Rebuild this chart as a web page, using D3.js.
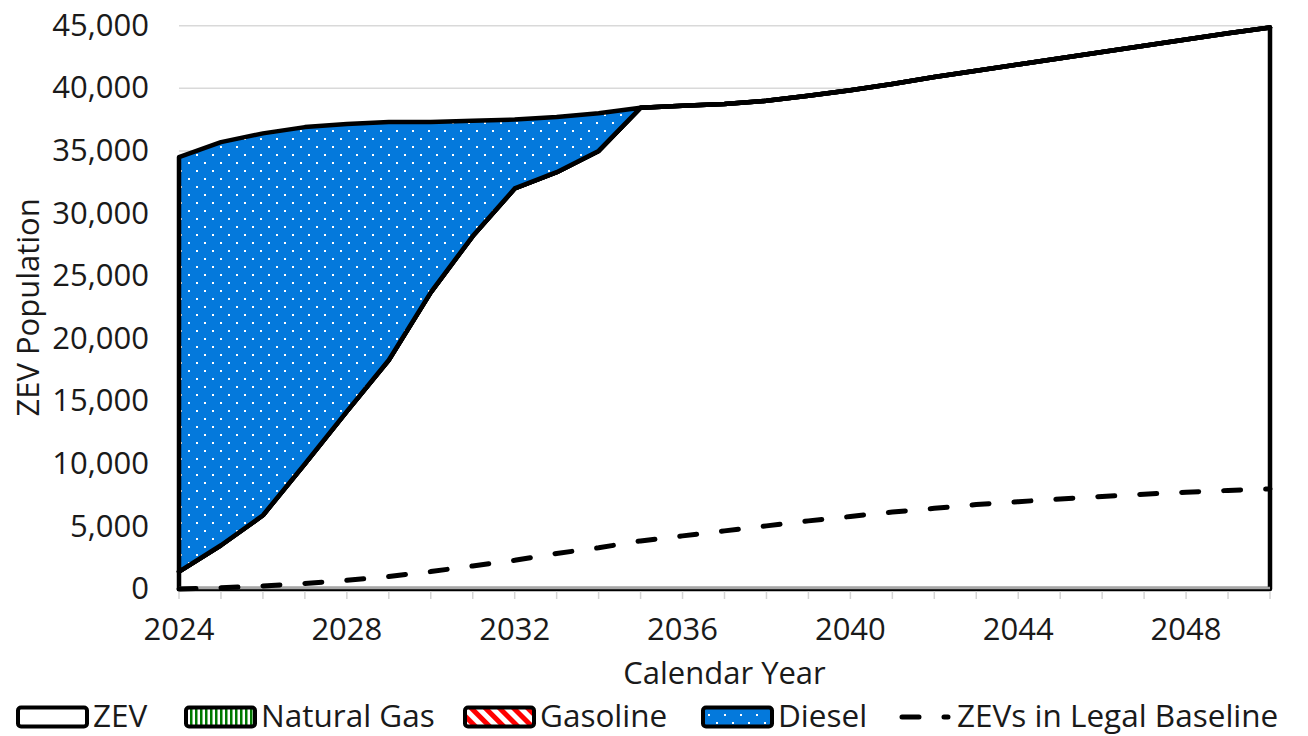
<!DOCTYPE html>
<html>
<head>
<meta charset="utf-8">
<script src="https://cdn.jsdelivr.net/npm/d3@7"></script>
<style>
  body { margin: 0; background: #fff; }
  svg { display: block; }
  text { font-family: "Open Sans", Lato, sans-serif; fill: #1a1a1a; }
</style>
</head>
<body>
<svg id="chart" width="1308" height="736"></svg>
<script>
// Fleet population by fuel type, 2024-2050
const years = [2024, 2025, 2026, 2027, 2028, 2029, 2030, 2031, 2032, 2033, 2034, 2035, 2036,
  2037, 2038, 2039, 2040, 2041, 2042, 2043, 2044, 2045, 2046, 2047, 2048, 2049, 2050];
const zev = [1400, 3500, 5900, 10000, 14200, 18300, 23700, 28200, 32000, 33300, 35000, 38450, 38600,
  38750, 39000, 39400, 39850, 40350, 40900, 41400, 41900, 42400, 42900, 43400, 43900, 44400, 44850];
const naturalGas = [0, 0, 0, 0, 0, 0, 0, 0, 0, 0, 0, 0, 0,
  0, 0, 0, 0, 0, 0, 0, 0, 0, 0, 0, 0, 0, 0];
const gasoline = [0, 0, 0, 0, 0, 0, 0, 0, 0, 0, 0, 0, 0,
  0, 0, 0, 0, 0, 0, 0, 0, 0, 0, 0, 0, 0, 0];
const diesel = [33100, 32200, 30500, 26900, 22950, 19000, 13600, 9200, 5500, 4400, 3000, 0, 0,
  0, 0, 0, 0, 0, 0, 0, 0, 0, 0, 0, 0, 0, 0];
const legalBaseline = [0, 100, 250, 450, 700, 1000, 1400, 1850, 2300, 2850, 3300, 3850, 4250,
  4650, 5050, 5450, 5800, 6150, 6450, 6750, 6980, 7200, 7400, 7580, 7740, 7880, 8000];

const seriesKeys = ["ZEV", "Natural Gas", "Gasoline", "Diesel"];
const xTickLabels = [2024, 2028, 2032, 2036, 2040, 2044, 2048];
const yTickValues = [0, 5000, 10000, 15000, 20000, 25000, 30000, 35000, 40000, 45000];

const svg = d3.select("#chart");
const x = d3.scaleLinear().domain([2024, 2050]).range([179, 1270]);
const y = d3.scaleLinear().domain([0, 45000]).range([589.1, 25.7]);
const fmt = d3.format(",");

// fill patterns
const defs = svg.append("defs");
const blue = "#0479dc";
const dots = defs.append("pattern").attr("id", "dots").attr("patternUnits", "userSpaceOnUse")
  .attr("width", 16).attr("height", 16);
dots.append("rect").attr("width", 16).attr("height", 16).attr("fill", blue);
dots.append("rect").attr("x", 12).attr("y", 2).attr("width", 2).attr("height", 2).attr("fill", "#fff");
dots.append("rect").attr("x", 4).attr("y", 10).attr("width", 2).attr("height", 2).attr("fill", "#fff");

const vstripes = defs.append("pattern").attr("id", "vstripes").attr("patternUnits", "userSpaceOnUse")
  .attr("width", 5).attr("height", 5);
vstripes.append("rect").attr("width", 5).attr("height", 5).attr("fill", "#fff");
vstripes.append("rect").attr("width", 2.5).attr("height", 5).attr("fill", "#007a00");

const diag = defs.append("pattern").attr("id", "diag").attr("patternUnits", "userSpaceOnUse")
  .attr("width", 10).attr("height", 10).attr("patternTransform", "rotate(-45)");
diag.append("rect").attr("width", 10).attr("height", 10).attr("fill", "#fff");
diag.append("rect").attr("width", 5).attr("height", 10).attr("fill", "#ff0000");

const fills = { "ZEV": "#ffffff", "Natural Gas": "url(#vstripes)", "Gasoline": "url(#diag)", "Diesel": "url(#dots)" };

// horizontal gridlines
svg.append("g").selectAll("line").data(yTickValues.filter(v => v > 0)).join("line")
  .attr("x1", x(2024)).attr("x2", x(2050))
  .attr("y1", d => y(d)).attr("y2", d => y(d))
  .attr("stroke", "#d9d9d9").attr("stroke-width", 1.5);

// stacked areas
const rows = years.map((yr, i) => ({
  year: yr, "ZEV": zev[i], "Natural Gas": naturalGas[i], "Gasoline": gasoline[i], "Diesel": diesel[i]
}));
const stacked = d3.stack().keys(seriesKeys)(rows);
const area = d3.area()
  .x(d => x(d.data.year))
  .y0(d => y(d[0]))
  .y1(d => y(d[1]));

svg.append("g").selectAll("path").data(stacked).join("path")
  .attr("d", area)
  .attr("fill", d => fills[d.key])
  .attr("stroke", "#000")
  .attr("stroke-width", 4.5)
  .attr("stroke-linejoin", "round");

// x axis line and year ticks
svg.append("line")
  .attr("x1", x(2024)).attr("x2", x(2050)).attr("y1", 588).attr("y2", 588)
  .attr("stroke", "#a6a6a6").attr("stroke-width", 2.5);
svg.append("g").selectAll("line").data(years).join("line")
  .attr("x1", d => x(d)).attr("x2", d => x(d))
  .attr("y1", 591.5).attr("y2", 599)
  .attr("stroke", "#d4d4d4").attr("stroke-width", 1.5);

// legal baseline dashed line
const line = d3.line().x((d, i) => x(years[i])).y(d => y(d));
svg.append("path")
  .attr("d", line(legalBaseline))
  .attr("fill", "none")
  .attr("stroke", "#000")
  .attr("stroke-width", 5)
  .attr("stroke-dasharray", "17 25")
  .attr("stroke-linecap", "round");

// tick labels
svg.append("g").selectAll("text").data(yTickValues).join("text")
  .attr("x", 149).attr("y", d => y(d) + 10)
  .attr("text-anchor", "end")
  .style("font-size", "31px")
  .text(d => fmt(d));

svg.append("g").selectAll("text").data(xTickLabels).join("text")
  .attr("x", d => x(d)).attr("y", 639.5)
  .attr("text-anchor", "middle")
  .style("font-size", "31px")
  .text(d => d);

// axis titles
svg.append("text")
  .attr("x", (x(2024) + x(2050)) / 2).attr("y", 684)
  .attr("text-anchor", "middle")
  .style("font-size", "31px")
  .text("Calendar Year");

svg.append("text")
  .attr("transform", `translate(39,${(y(0) + y(45000)) / 2}) rotate(-90)`)
  .attr("text-anchor", "middle")
  .style("font-size", "31px")
  .text("ZEV Population");

// legend
const legendY = 717;
const legendItems = [
  { key: "ZEV", x: 18 },
  { key: "Natural Gas", x: 186 },
  { key: "Gasoline", x: 465 },
  { key: "Diesel", x: 703 }
];
const lg = svg.append("g");
legendItems.forEach(item => {
  lg.append("rect")
    .attr("x", item.x).attr("y", legendY - 9.5)
    .attr("width", 69).attr("height", 19)
    .attr("rx", 3)
    .attr("fill", fills[item.key])
    .attr("stroke", "#000").attr("stroke-width", 4);
  lg.append("text")
    .attr("x", item.x + 75).attr("y", legendY + 10)
    .style("font-size", "31.5px")
    .text(item.key);
});
lg.append("line")
  .attr("x1", 902).attr("x2", 948).attr("y1", legendY).attr("y2", legendY)
  .attr("stroke", "#000").attr("stroke-width", 5)
  .attr("stroke-dasharray", "17 25").attr("stroke-linecap", "round");
lg.append("text")
  .attr("x", 957).attr("y", legendY + 10)
  .style("font-size", "31.5px")
  .text("ZEVs in Legal Baseline");
</script>
</body>
</html>
